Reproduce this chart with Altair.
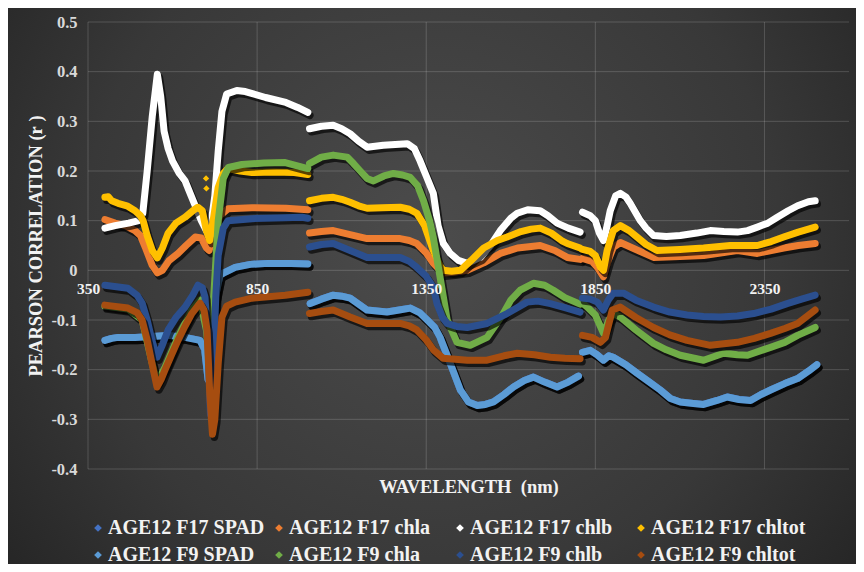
import altair as alt
import pandas as pd

# ---------------- data ----------------
SERIES = ["AGE12 F17 SPAD", "AGE12 F17 chla", "AGE12 F17 chlb", "AGE12 F17 chltot",
          "AGE12 F9 SPAD", "AGE12 F9 chla", "AGE12 F9 chlb", "AGE12 F9 chltot"]
COLORS = ["#4472C4", "#ED7D31", "#FFFFFF", "#FFC000",
          "#5B9BD5", "#70AD47", "#2B4F8F", "#A64D10"]
X_TICKS = [350, 850, 1350, 1850, 2350]
Y_TICKS = [-0.4, -0.3, -0.2, -0.1, 0.0, 0.1, 0.2, 0.3, 0.4, 0.5]
SEGMENT_BREAKS = [1002, 1808]   # detector splice points (lines break here)

# F9 SPAD (light blue)
f9_spad_wl = [400, 420, 439, 489, 540, 587, 637, 681, 695, 705, 715, 725, 740, 755, 785, 830, 883, 950, 1000,
              1007, 1040, 1075, 1100, 1125, 1150, 1175, 1234, 1270, 1303, 1330, 1353, 1375, 1391, 1421, 1451, 1475,
              1501, 1525, 1549, 1580, 1608, 1640, 1667, 1700, 1737, 1770, 1800,
              1812, 1835, 1855, 1874, 1890, 1903, 1940, 1973, 2010, 2042, 2072, 2101, 2140, 2170, 2210, 2240, 2275,
              2309, 2340, 2368, 2410, 2448, 2480, 2505]
f9_spad_r = [-0.141, -0.137, -0.135, -0.135, -0.133, -0.131, -0.135, -0.141, -0.16, -0.22, -0.2, -0.06, -0.01, -0.004,
             0.006, 0.012, 0.014, 0.014, 0.013,
             -0.067, -0.058, -0.05, -0.052, -0.056, -0.068, -0.08, -0.084, -0.08, -0.076, -0.085, -0.1, -0.115, -0.135,
             -0.187, -0.241, -0.265, -0.272, -0.27, -0.265, -0.25, -0.235, -0.222, -0.215, -0.225, -0.235, -0.225, -0.213,
             -0.165, -0.161, -0.17, -0.181, -0.172, -0.175, -0.19, -0.207, -0.225, -0.241, -0.258, -0.265, -0.268, -0.27,
             -0.262, -0.255, -0.26, -0.262, -0.25, -0.241, -0.228, -0.218, -0.203, -0.19]

# F17 SPAD: hidden beneath the F9 SPAD line in the reference
f17_spad_wl = list(f9_spad_wl)
f17_spad_r = list(f9_spad_r)

# F17 chla (orange)
f17_chla_wl = [400, 430, 460, 489, 505, 520, 540, 555, 570, 590, 616, 640, 667, 685, 700, 708, 720, 740, 764, 835, 935, 1000,
               1005, 1040, 1075, 1125, 1175, 1273, 1300, 1322, 1350, 1371, 1400, 1430, 1471, 1520, 1569, 1620, 1687, 1730,
               1767, 1805,
               1812, 1840, 1856, 1874, 1888, 1903, 1924, 1960, 2022, 2100, 2170, 2230, 2270, 2329, 2370, 2407, 2450, 2500]
f17_chla_r = [0.102, 0.095, 0.09, 0.08, 0.07, 0.045, 0.01, -0.005, 0.0, 0.02, 0.034, 0.05, 0.067, 0.065, 0.045, 0.04, 0.07,
              0.11, 0.124, 0.126, 0.125, 0.122,
              0.075, 0.078, 0.08, 0.072, 0.064, 0.064, 0.06, 0.054, 0.035, 0.014, -0.006, -0.004, 0.0, 0.015, 0.034, 0.045,
              0.05, 0.04, 0.026, 0.022,
              0.024, 0.018, 0.006, -0.013, 0.02, 0.046, 0.056, 0.045, 0.026, 0.028, 0.03, 0.036, 0.04, 0.034, 0.04, 0.045,
              0.05, 0.054]

# F17 chlb (white)
f17_chlb_wl = [400, 430, 470, 500, 512, 525, 540, 555, 565, 575, 587, 600, 620, 637, 655, 667, 685, 700, 712, 725, 735, 746,
               760, 790, 815, 875, 935, 970, 1000,
               1005, 1040, 1075, 1100, 1125, 1150, 1175, 1223, 1294, 1315, 1332, 1350, 1371, 1385, 1400, 1421, 1445, 1471,
               1510, 1540, 1569, 1600, 1619, 1650, 1687, 1710, 1737, 1770, 1805,
               1812, 1835, 1850, 1862, 1874, 1885, 1894, 1910, 1924, 1940, 1953, 1983, 2000, 2022, 2060, 2101, 2150, 2190,
               2230, 2270, 2300, 2329, 2360, 2388, 2420, 2448, 2480, 2500]
f17_chlb_r = [0.085, 0.09, 0.095, 0.10, 0.115, 0.2, 0.31, 0.395, 0.35, 0.28, 0.245, 0.22, 0.195, 0.18, 0.15, 0.13, 0.10,
              0.08, 0.085, 0.15, 0.24, 0.32, 0.355, 0.362, 0.36, 0.348, 0.338, 0.328, 0.318,
              0.285, 0.29, 0.292, 0.285, 0.275, 0.26, 0.248, 0.252, 0.255, 0.245, 0.22, 0.19, 0.155, 0.09, 0.055, 0.034,
              0.02, 0.014, 0.026, 0.05, 0.08, 0.105, 0.115, 0.122, 0.12, 0.11, 0.095, 0.085, 0.077,
              0.117, 0.11, 0.1, 0.075, 0.06, 0.09, 0.12, 0.15, 0.155, 0.148, 0.135, 0.10, 0.085, 0.07, 0.068, 0.07, 0.075,
              0.08, 0.078, 0.077, 0.08, 0.087, 0.095, 0.107, 0.12, 0.13, 0.138, 0.14]

# F17 chltot (gold)
f17_chltot_wl = [400, 410, 420, 439, 465, 489, 505, 513, 525, 540, 555, 570, 587, 610, 637, 660, 675, 688, 700, 710, 720,
                 735, 750, 764, 800, 835, 900, 960, 1000,
                 1005, 1040, 1075, 1100, 1125, 1150, 1175, 1220, 1273, 1300, 1322, 1345, 1371, 1390, 1400, 1425, 1451,
                 1483, 1520, 1560, 1589, 1630, 1660, 1687, 1720, 1750, 1767, 1805,
                 1812, 1835, 1850, 1865, 1874, 1885, 1903, 1924, 1950, 1973, 2000, 2032, 2100, 2170, 2249, 2329, 2370,
                 2407, 2450, 2500]
f17_chltot_r = [0.147, 0.148, 0.14, 0.135, 0.13, 0.12, 0.11, 0.10, 0.07, 0.04, 0.025, 0.045, 0.075, 0.095, 0.107, 0.12,
                0.127, 0.12, 0.08, 0.06, 0.1, 0.167, 0.195, 0.205, 0.2, 0.197, 0.198, 0.197, 0.193,
                0.14, 0.145, 0.147, 0.143, 0.137, 0.13, 0.125, 0.126, 0.127, 0.123, 0.115, 0.09, 0.04, 0.01, 0.0, -0.002,
                0.0, 0.02, 0.045, 0.06, 0.067, 0.078, 0.083, 0.085, 0.075, 0.06, 0.054, 0.045,
                0.042, 0.038, 0.03, 0.006, 0.0, 0.04, 0.08, 0.09, 0.08, 0.067, 0.052, 0.04, 0.042, 0.045, 0.05, 0.05,
                0.058, 0.067, 0.077, 0.087]
# isolated F17 chltot markers near 700 nm
spike_wl = [699, 700]
spike_r = [0.185, 0.165]

# F9 chla (green)
f9_chla_wl = [400, 468, 510, 539, 554, 578, 616, 657, 681, 700, 712, 722, 735, 750, 765, 805, 870, 933, 983, 1000,
              1005, 1040, 1075, 1116, 1135, 1155, 1175, 1194, 1225, 1253, 1280, 1303, 1325, 1342, 1360, 1371, 1391, 1412,
              1441, 1480, 1530, 1555, 1578, 1600, 1628, 1667, 1700, 1726, 1760, 1805,
              1812, 1826, 1850, 1874, 1890, 1903, 1924, 1970, 2022, 2060, 2101, 2170, 2229, 2270, 2300, 2368, 2410, 2448,
              2500]
f9_chla_r = [-0.072, -0.078, -0.1, -0.185, -0.225, -0.195, -0.135, -0.08, -0.06, -0.12, -0.2, -0.05, 0.1, 0.185, 0.207,
             0.213, 0.216, 0.217, 0.208, 0.205,
             0.215, 0.228, 0.232, 0.228, 0.215, 0.2, 0.185, 0.18, 0.19, 0.195, 0.192, 0.187, 0.17, 0.14, 0.1, 0.066,
             -0.014, -0.1, -0.145, -0.151, -0.135, -0.11, -0.087, -0.06, -0.04, -0.026, -0.03, -0.04, -0.055, -0.068,
             -0.066, -0.074, -0.09, -0.127, -0.1, -0.087, -0.094, -0.12, -0.147, -0.16, -0.171, -0.181, -0.167, -0.17,
             -0.171, -0.155, -0.145, -0.131, -0.115]

# F9 chlb (dark blue)
f9_chlb_wl = [400, 468, 495, 510, 525, 539, 554, 570, 587, 610, 637, 660, 675, 688, 696, 705, 712, 720, 728, 735, 750,
              764, 835, 930, 983, 1000,
              1005, 1040, 1075, 1125, 1175, 1273, 1300, 1322, 1350, 1371, 1382, 1398, 1412, 1440, 1471, 1530, 1589, 1648,
              1680, 1717, 1760, 1805,
              1812, 1835, 1856, 1874, 1888, 1903, 1933, 1970, 2022, 2070, 2121, 2170, 2220, 2270, 2318, 2370, 2417, 2460,
              2500]
f9_chlb_r = [-0.03, -0.036, -0.05, -0.066, -0.1, -0.141, -0.175, -0.15, -0.12, -0.095, -0.074, -0.05, -0.03, -0.035,
             -0.054, -0.15, -0.29, -0.2, -0.05, 0.03, 0.085, 0.1, 0.104, 0.106, 0.107, 0.105,
             0.047, 0.052, 0.054, 0.04, 0.026, 0.026, 0.018, 0.006, -0.012, -0.034, -0.067, -0.095, -0.107, -0.113,
             -0.115, -0.107, -0.087, -0.064, -0.062, -0.067, -0.075, -0.084,
             -0.056, -0.058, -0.064, -0.08, -0.06, -0.046, -0.046, -0.06, -0.074, -0.084, -0.09, -0.093, -0.094, -0.092,
             -0.087, -0.078, -0.067, -0.058, -0.05]

# F9 chltot (brown)
f9_chltot_wl = [400, 468, 495, 510, 525, 539, 554, 566, 578, 597, 616, 637, 657, 681, 693, 702, 710, 718, 725, 735, 746,
                760, 785, 835, 933, 1000,
                1005, 1040, 1075, 1125, 1175, 1273, 1300, 1322, 1350, 1371, 1400, 1471, 1530, 1580, 1619, 1670, 1717,
                1760, 1805,
                1812, 1840, 1865, 1880, 1900, 1924, 1970, 2022, 2070, 2121, 2190, 2270, 2320, 2368, 2410, 2448, 2500]
f9_chltot_r = [-0.07, -0.076, -0.085, -0.1, -0.14, -0.187, -0.235, -0.22, -0.2, -0.17, -0.141, -0.112, -0.087, -0.066,
               -0.08, -0.12, -0.25, -0.33, -0.3, -0.187, -0.094, -0.072, -0.064, -0.056, -0.05, -0.044,
               -0.087, -0.083, -0.08, -0.094, -0.107, -0.107, -0.112, -0.12, -0.14, -0.16, -0.177, -0.181, -0.181,
               -0.172, -0.167, -0.17, -0.175, -0.177, -0.178,
               -0.131, -0.135, -0.145, -0.135, -0.08, -0.074, -0.095, -0.115, -0.13, -0.141, -0.151, -0.145, -0.137,
               -0.127, -0.117, -0.107, -0.08]

WLS = [f17_spad_wl, f17_chla_wl, f17_chlb_wl, f17_chltot_wl, f9_spad_wl, f9_chla_wl, f9_chlb_wl, f9_chltot_wl]
RS = [f17_spad_r, f17_chla_r, f17_chlb_r, f17_chltot_r, f9_spad_r, f9_chla_r, f9_chlb_r, f9_chltot_r]

rows = []
for name, wls, rs in zip(SERIES, WLS, RS):
    for w, v in zip(wls, rs):
        rows.append({"series": name, "wl": w, "r": v, "seg": sum(w > b for b in SEGMENT_BREAKS)})
df = pd.DataFrame(rows)
spikes = pd.DataFrame({"series": SERIES[3], "wl": spike_wl, "r": spike_r})

# ---------------- styling ----------------
W, H = 761, 447
PAD = {"left": 80, "top": 14, "right": 7, "bottom": 95}
SERIF = "Liberation Serif"
GRID = "#ffffff"
GRID_OPACITY = 0.17

x_scale = alt.Scale(domain=[350, 2600], nice=False, zero=False)
y_scale = alt.Scale(domain=[-0.4, 0.5], nice=False, zero=False)
color_scale = alt.Scale(domain=SERIES, range=COLORS)

x_axis = alt.Axis(values=X_TICKS, format="d", grid=False, domain=False, ticks=False, zindex=1,
                  labelPadding=-188, labelFlush=False, labelFont=SERIF, labelFontWeight="bold", labelFontSize=15.5,
                  labelColor="#f2f2f2", title="WAVELENGTH\u00a0 (nm)", titleFont=SERIF, titleFontWeight="bold",
                  titleFontSize=18.5, titleColor="#f2f2f2", titleBaseline="middle", titleY=17)
y_axis = alt.Axis(values=Y_TICKS, grid=False, domain=False, ticks=False, zindex=1,
                  labelPadding=11, labelFont=SERIF, labelFontWeight="bold", labelFontSize=16.5, labelColor="#d9d9d9",
                  labelExpr="abs(datum.value) < 1e-9 ? '0' : replace(format(datum.value, '.1f'), '\u2212', '-')",
                  title="PEARSON CORRELATION (r\u00a0)", titleFont=SERIF, titleFontWeight="bold", titleFontSize=18.5,
                  titleColor="#f2f2f2", titleX=-43, titleY=H / 2, titleAngle=-90, titleBaseline="bottom",
                  titleAlign="center")

X = alt.X("wl:Q", scale=x_scale, axis=x_axis)
Y = alt.Y("r:Q", scale=y_scale, axis=y_axis)

bg = alt.Chart(alt.Data(values=[{"k": 1}])).mark_rect(
    color=alt.RadialGradient(
        gradient="radial", x1=0.5, y1=0.45, r1=0, x2=0.5, y2=0.45, r2=0.75,
        stops=[alt.GradientStop(offset=0, color="#4c4c4c"),
               alt.GradientStop(offset=0.55, color="#383838"),
               alt.GradientStop(offset=1, color="#1c1c1c")])
).encode(x=alt.value(-PAD["left"]), x2=alt.value(W + PAD["right"]),
         y=alt.value(-PAD["top"]), y2=alt.value(H + PAD["bottom"]))

# gridlines as rules (same scales and axes as the data layers, so the axes merge)
vgrid = alt.Chart(pd.DataFrame({"wl": X_TICKS})).mark_rule(
    color=GRID, opacity=GRID_OPACITY, strokeWidth=1).encode(x=X)
hgrid = alt.Chart(pd.DataFrame({"r": Y_TICKS})).mark_rule(
    color=GRID, opacity=GRID_OPACITY, strokeWidth=1).encode(y=Y)

layers = [bg, vgrid, hgrid]
for name in SERIES:
    sub = df[df["series"] == name]
    shadow = alt.Chart(sub).mark_line(color="black", strokeWidth=7.5, opacity=0.65, xOffset=2, yOffset=3,
                                      strokeCap="round", strokeJoin="round").encode(x=X, y=Y, detail="seg:N")
    line = alt.Chart(sub).mark_line(strokeWidth=7, strokeCap="round", strokeJoin="round").encode(
        x=X, y=Y, detail="seg:N",
        color=alt.Color("series:N", scale=color_scale, legend=None))
    layers += [shadow, line]

legend = alt.Legend(orient="none", direction="horizontal", legendX=0, legendY=496, columns=4, gridAlign="all",
                    columnPadding=4, rowPadding=7, symbolType="diamond", symbolSize=60, symbolStrokeWidth=0,
                    labelFont=SERIF, labelFontWeight="bold", labelFontSize=20, labelColor="#f2f2f2",
                    labelOffset=0, labelLimit=0, title=None, padding=0)
dots = alt.Chart(spikes).mark_point(shape="diamond", filled=True, size=40, opacity=1).encode(
    x=X, y=Y, color=alt.Color("series:N", scale=color_scale, legend=legend))
layers.append(dots)

chart = alt.layer(*layers).resolve_legend(color="independent").properties(
    width=W, height=H, padding=PAD, autosize=alt.AutoSizeParams(type="none")
).configure(background="#2a2a2a").configure_view(stroke=None)

chart.save("out.html", embed_options={"renderer": "svg", "actions": False})
